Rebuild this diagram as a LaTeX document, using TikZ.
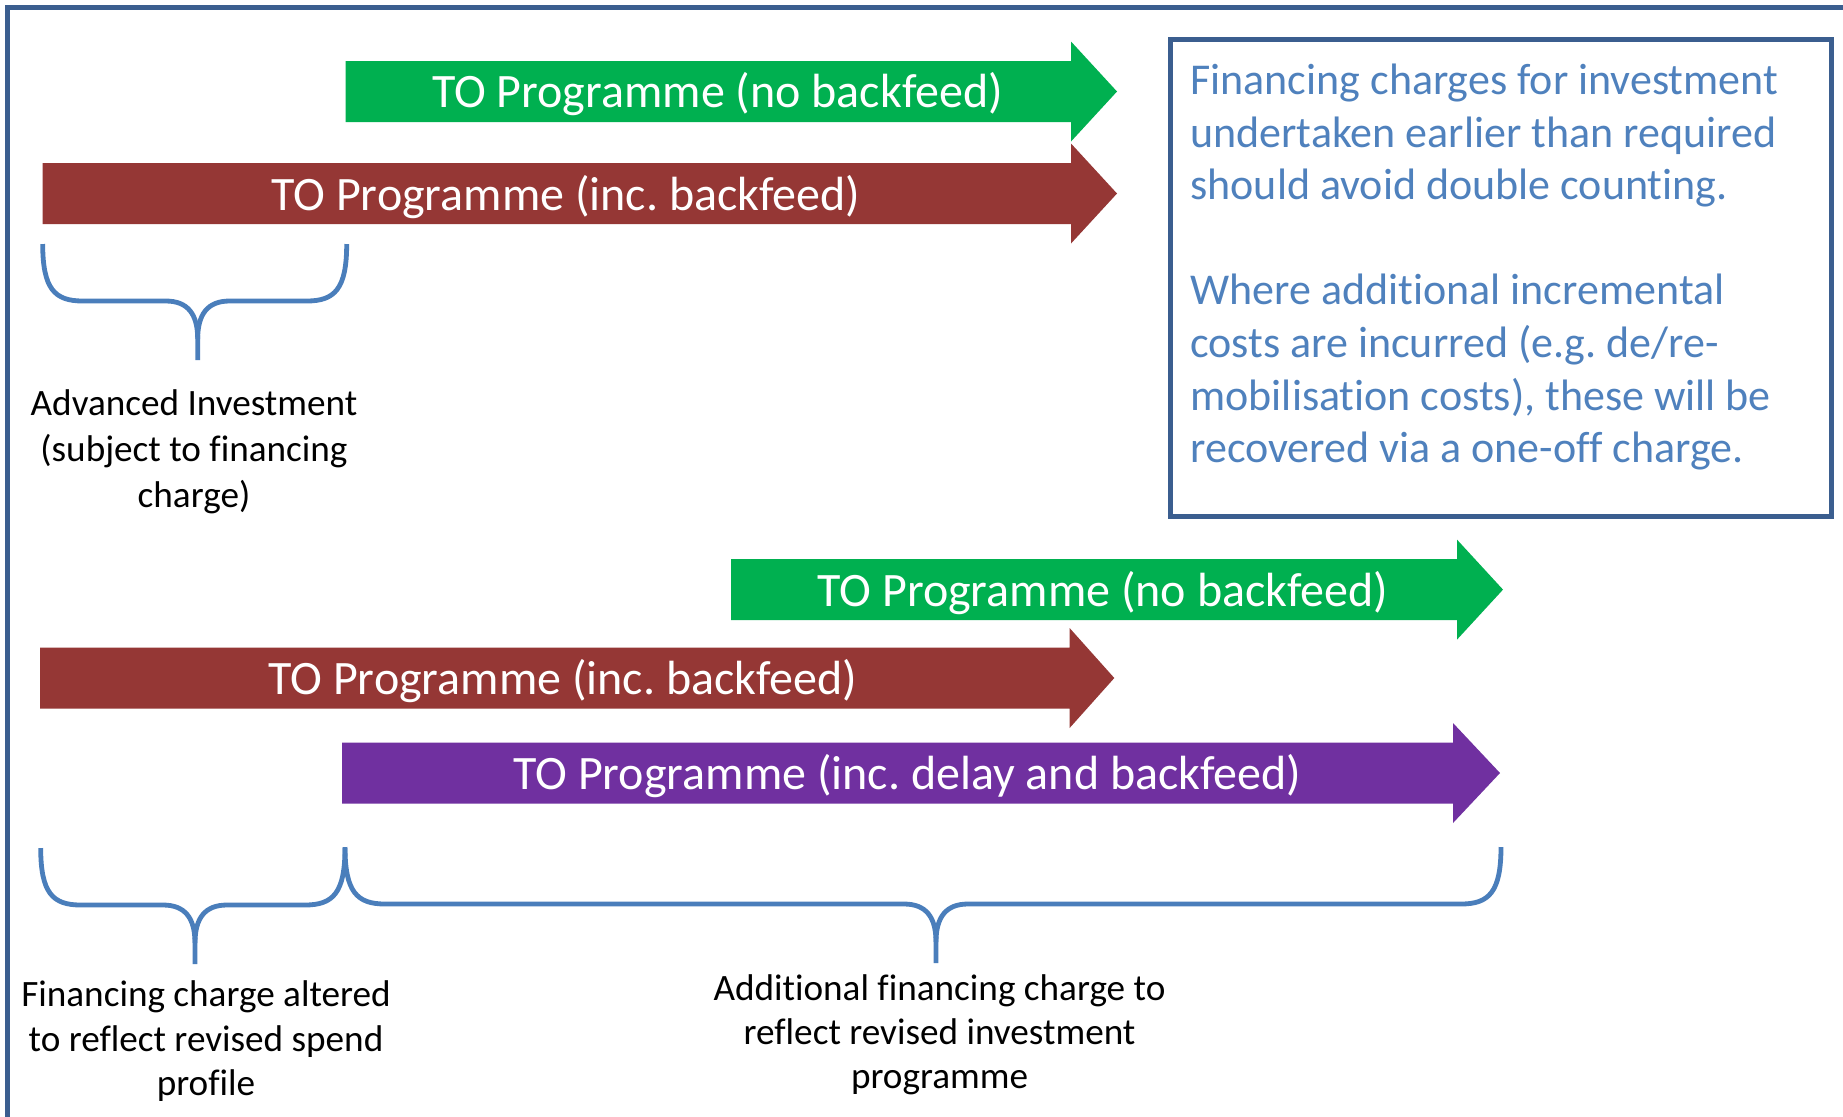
\documentclass[tikz,border=0pt]{standalone}
\usepackage{fontspec}
\setmainfont{Carlito}[Ligatures={NoCommon}]
\frenchspacing
\definecolor{pgreen}{HTML}{00B050}
\definecolor{pred}{HTML}{953735}
\definecolor{ppurple}{HTML}{7030A0}
\definecolor{bracecol}{HTML}{4A7EBB}
\definecolor{framecol}{HTML}{3B5E8F}
\definecolor{notecol}{HTML}{4F81BD}
\newcommand\progarrow[5]{% left x, head base x, tip x, centre y, colour
  \fill[#5] (#1,#4-30.5) -- (#2,#4-30.5) -- (#2,#4-50) -- (#3,#4) -- (#2,#4+50)
    -- (#2,#4+30.5) -- (#1,#4+30.5) -- cycle;}
\newcommand\curlybrace[4]{% left x, right x, tip x, top y
  \draw[bracestyle] (#1,#4) .. controls (#1,#4+45) and (#1+12,#4+57) .. (#1+40,#4+57)
    -- (#3-32,#4+57) .. controls (#3-10,#4+57) and (#3,#4+70) .. (#3,#4+95) -- (#3,#4+116);
  \draw[bracestyle] (#2,#4) .. controls (#2,#4+45) and (#2-12,#4+57) .. (#2-40,#4+57)
    -- (#3+32,#4+57) .. controls (#3+10,#4+57) and (#3,#4+70) .. (#3,#4+95);}
\begin{document}
\begin{tikzpicture}[x=0.5pt,y=-0.5pt,
  arrowtext/.style={text=white,font=\fontsize{24pt}{28pt}\selectfont,anchor=base,inner sep=0pt},
  notetext/.style={text=notecol,font=\fontsize{22pt}{26pt}\selectfont,anchor=base west,inner sep=0pt},
  labeltext/.style={text=black,font=\fontsize{18.6pt}{22pt}\selectfont,anchor=base,inner sep=0pt},
  bracestyle/.style={draw=bracecol,line width=2.4pt},
  notebox/.style={draw=framecol,line width=2.5pt,fill=white,inner sep=0pt,anchor=north west}]
\useasboundingbox (0,0) rectangle (1843,1116);
\fill[white] (0,0) rectangle (1843,1116);
% outer frame
\draw[framecol,line width=2.5pt] (7,1200) -- (7,7) -- (1900,7);
% top group
\progarrow{345.6}{1071}{1117}{91.5}{pgreen}
\node[arrowtext] (g1) at (717.6,107.3) {TO Programme (no backfeed)};
\progarrow{42.5}{1071}{1117}{193.5}{pred}
\node[arrowtext] (r1) at (566,210) {TO Programme (inc. backfeed)};
\curlybrace{42.7}{346.7}{197.7}{244}
\node[labeltext] (l1a) at (194,415) {Advanced Investment};
\node[labeltext] (l1b) at (194,461) {(subject to financing};
\node[labeltext] (l1c) at (194,507) {charge)};
% note box
\node[notebox,minimum width=330.5pt,minimum height=238.5pt] (note) at (1168,37) {};
\node[notetext] (n1) at (1190,94.5) {Financing charges for investment};
\node[notetext] (n2) at (1190,147.1) {undertaken earlier than required};
\node[notetext] (n3) at (1190,199.7) {should avoid double counting.};
\node[notetext] (n4) at (1190,304.9) {Where additional incremental};
\node[notetext] (n5) at (1190,357.5) {costs are incurred (e.g. de/re-};
\node[notetext] (n6) at (1190,410.1) {mobilisation costs), these will be};
\node[notetext] (n7) at (1190,462.7) {recovered via a one-off charge.};
% bottom group
\progarrow{731}{1457}{1503}{589.6}{pgreen}
\node[arrowtext] (g2) at (1103,606) {TO Programme (no backfeed)};
\progarrow{40}{1069.6}{1114.3}{678}{pred}
\node[arrowtext] (r2) at (563,694.5) {TO Programme (inc. backfeed)};
\progarrow{342}{1453}{1500}{773}{ppurple}
\node[arrowtext] (p2) at (907.5,789.5) {TO Programme (inc. delay and backfeed)};
\curlybrace{40.7}{345}{195}{848}
\curlybrace{345}{1501}{936}{847}
\node[labeltext] (l2a) at (206,1006.7) {Financing charge altered};
\node[labeltext] (l2b) at (206,1051.2) {to reflect revised spend};
\node[labeltext] (l2c) at (206,1095) {profile};
\node[labeltext] (l3a) at (939.5,1000) {Additional financing charge to};
\node[labeltext] (l3b) at (939.5,1044.2) {reflect revised investment};
\node[labeltext] (l3c) at (939.5,1088.3) {programme};
\end{tikzpicture}
\end{document}
